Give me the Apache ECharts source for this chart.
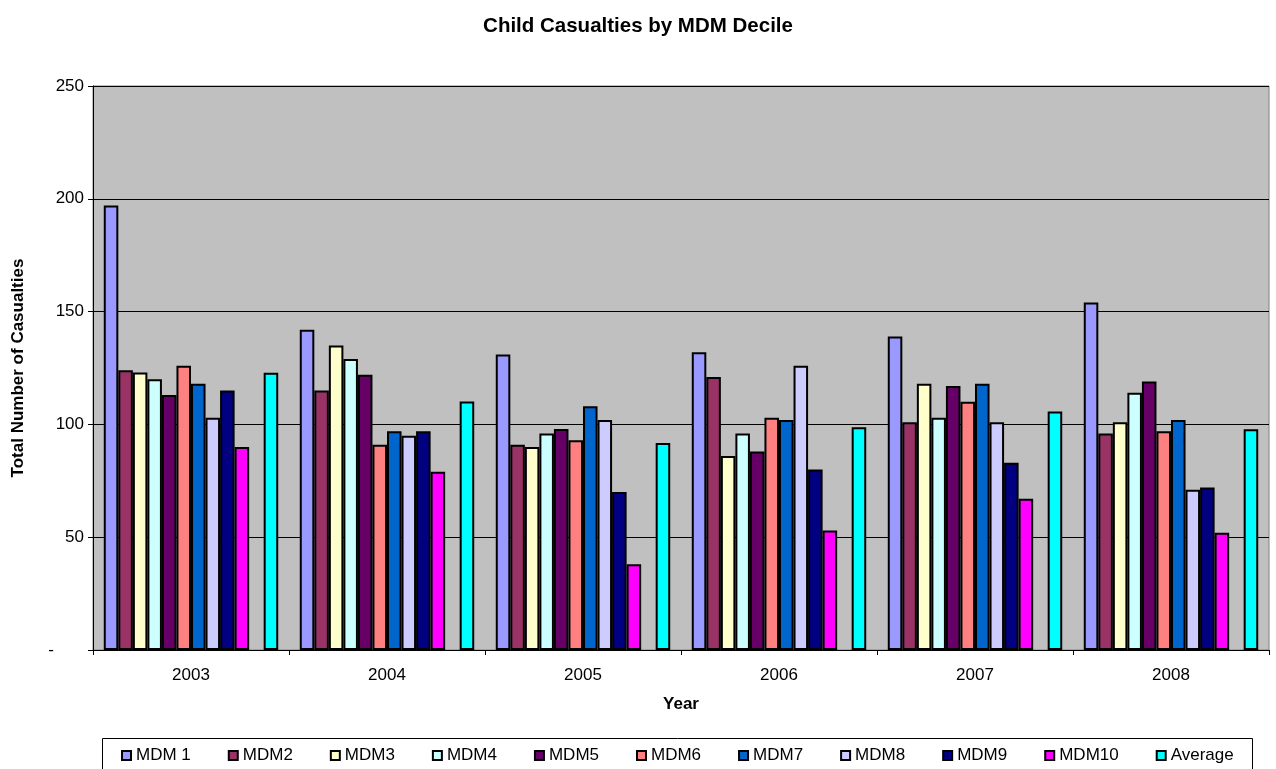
<!DOCTYPE html>
<html>
<head>
<meta charset="utf-8">
<title>Child Casualties by MDM Decile</title>
<script src="https://cdn.jsdelivr.net/npm/echarts@6/dist/echarts.min.js"></script>
<style>
  html, body { margin: 0; padding: 0; background: #ffffff; }
  #chart { width: 1276px; height: 769px; }
</style>
</head>
<body>
<div id="chart"></div>
<script>
// Casualty counts per year for each deprivation decile
const years = ['2003', '2004', '2005', '2006', '2007', '2008'];
const mdm1 = [197, 142, 131, 132, 139, 154];
const mdm2 = [124, 115, 91, 121, 101, 96];
const mdm3 = [123, 135, 90, 86, 118, 101];
const mdm4 = [120, 129, 96, 96, 103, 114];
const mdm5 = [113, 122, 98, 88, 117, 119];
const mdm6 = [126, 91, 93, 103, 110, 97];
const mdm7 = [118, 97, 108, 102, 118, 102];
const mdm8 = [103, 95, 102, 126, 101, 71];
const mdm9 = [115, 97, 70, 80, 83, 72];
const mdm10 = [90, 79, 38, 53, 67, 52];
const average = [122.9, 110.2, 91.7, 98.7, 105.7, 97.8];

const seriesNames = ['MDM 1', 'MDM2', 'MDM3', 'MDM4', 'MDM5', 'MDM6', 'MDM7', 'MDM8', 'MDM9', 'MDM10', 'Average'];
const seriesData = [mdm1, mdm2, mdm3, mdm4, mdm5, mdm6, mdm7, mdm8, mdm9, mdm10, average];
const seriesColors = ['#9999FF', '#993366', '#FFFFCC', '#CCFFFF', '#660066', '#FF8080',
                      '#0066CC', '#CCCCFF', '#000080', '#FF00FF', '#00FFFF'];

const FONT = "'Liberation Sans', Arial, sans-serif";

function barSeries(name, data, color) {
  return {
    name: name,
    type: 'bar',
    data: data,
    barGap: '0%',
    barCategoryGap: '11%',
    itemStyle: { color: color, borderColor: '#000', borderWidth: 2 },
    emphasis: { disabled: true }
  };
}

const series = [];
for (let i = 0; i < 10; i++) series.push(barSeries(seriesNames[i], seriesData[i], seriesColors[i]));
// empty slot between the deciles and the average bar
series.push(barSeries('spacer', years.map(() => '-'), 'transparent'));
series.push(barSeries(seriesNames[10], seriesData[10], seriesColors[10]));

const chart = echarts.init(document.getElementById('chart'), null, { renderer: 'canvas' });
chart.setOption({
  animation: false,
  backgroundColor: '#ffffff',
  textStyle: { fontFamily: FONT, color: '#000' },
  title: {
    text: 'Child Casualties by MDM Decile',
    left: 'center',
    top: 11,
    textStyle: { fontFamily: FONT, fontSize: 20.5, fontWeight: 'bold', color: '#000' }
  },
  graphic: [{
    type: 'rect',
    z: 0,
    shape: { x: 102.5, y: 738.5, width: 1150, height: 40 },
    style: { fill: '#ffffff', stroke: '#000', lineWidth: 1 }
  }],
  legend: {
    data: seriesNames,
    left: 121,
    top: 747,
    padding: 0,
    itemWidth: 9,
    itemHeight: 9,
    itemGap: 37,
    icon: 'rect',
    selectedMode: false,
    textStyle: { fontFamily: FONT, fontSize: 17, color: '#000' }
  },
  grid: {
    left: 93,
    right: 7,
    top: 86,
    bottom: 119,
    show: true,
    backgroundColor: '#C0C0C0',
    borderColor: '#808080',
    borderWidth: 1
  },
  xAxis: {
    type: 'category',
    data: years,
    name: 'Year',
    nameLocation: 'middle',
    nameGap: 46,
    nameTextStyle: { fontFamily: FONT, fontSize: 17, fontWeight: 'bold', color: '#000' },
    axisLine: { show: true, lineStyle: { color: '#000', width: 1 } },
    axisTick: { show: true, alignWithLabel: false, length: 5, lineStyle: { color: '#000' } },
    axisLabel: { fontFamily: FONT, fontSize: 17, color: '#000', margin: 17 },
    splitLine: { show: false }
  },
  yAxis: {
    type: 'value',
    min: 0,
    max: 250,
    interval: 50,
    name: 'Total Number of Casualties',
    nameLocation: 'middle',
    nameGap: 66,
    nameTextStyle: { fontFamily: FONT, fontSize: 17, fontWeight: 'bold', color: '#000' },
    axisLine: { show: true, lineStyle: { color: '#000', width: 1 } },
    axisTick: { show: true, length: 5, lineStyle: { color: '#000' } },
    axisLabel: {
      fontFamily: FONT,
      fontSize: 17,
      color: '#000',
      margin: 9,
      formatter: function (v) { return v === 0 ? '{d|-}' : String(v); },
      rich: { d: { fontFamily: FONT, fontSize: 17, color: '#000', padding: [0, 30, 0, 0] } }
    },
    splitLine: { show: true, lineStyle: { color: '#000', width: 1 } }
  },
  series: series
});
</script>
</body>
</html>
